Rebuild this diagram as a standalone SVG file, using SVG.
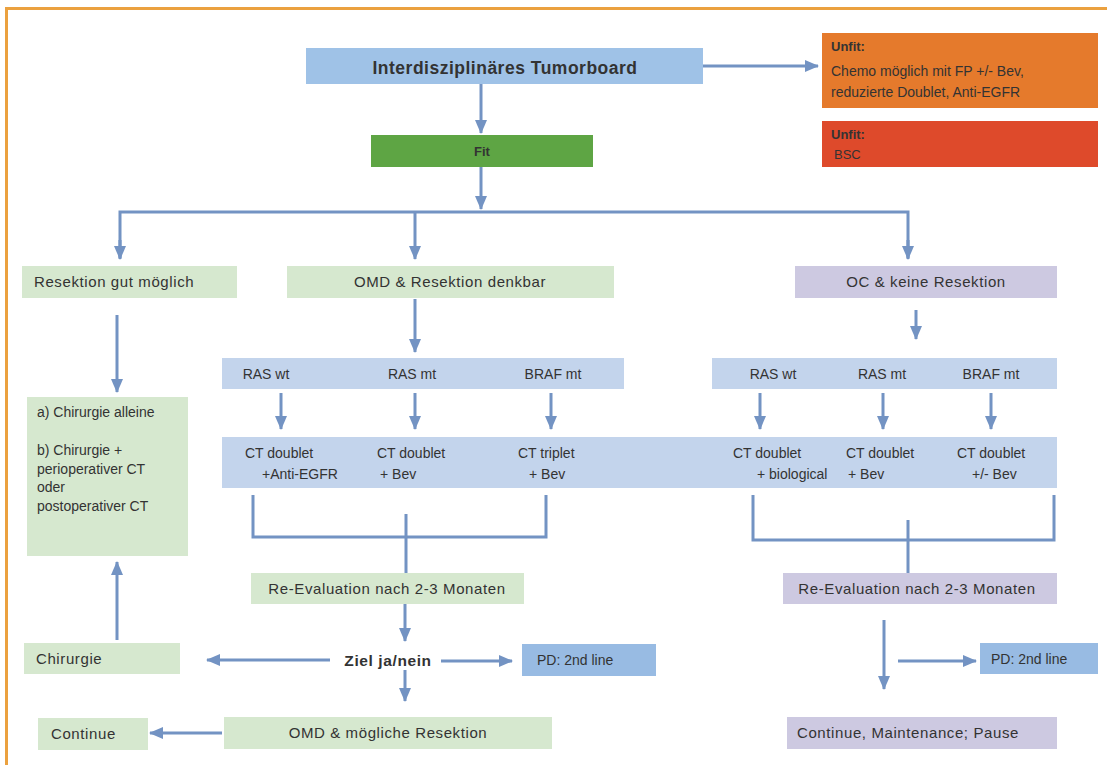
<svg xmlns="http://www.w3.org/2000/svg" width="1107" height="765" viewBox="0 0 1107 765">
<style>
text{font-family:"Liberation Sans",Arial,sans-serif;font-size:14px;fill:#333}
.b{font-weight:bold}
.c{text-anchor:middle}
.L{font-size:15px;letter-spacing:0.6px}
.ln{fill:none;stroke:#7393c3;stroke-width:3}
.g{fill:#d6e8cf}
.p{fill:#cdc9e1}
.lb{fill:#c3d4ec}
.db{fill:#98bbe3}
</style>
<defs>
<marker id="ah" markerUnits="userSpaceOnUse" markerWidth="14" markerHeight="14" viewBox="0 0 14 14" refX="13" refY="7" orient="auto">
<path d="M0,1 L14,7 L0,13 Z" fill="#7393c3"/>
</marker>
</defs>
<rect width="1107" height="765" fill="#fff"/>
<path d="M6.5,765 V8.5 H1107" fill="none" stroke="#eba13f" stroke-width="3"/>

<g id="connectors">
<path class="ln" d="M703,66 H818" marker-end="url(#ah)"/>
<path class="ln" d="M481,84 V133" marker-end="url(#ah)"/>
<path class="ln" d="M481,167 V209" marker-end="url(#ah)"/>
<path class="ln" d="M120,258 V212 H908 V258" />
<path class="ln" d="M120,240 V259" marker-end="url(#ah)"/>
<path class="ln" d="M415,212 V259" marker-end="url(#ah)"/>
<path class="ln" d="M908,240 V259" marker-end="url(#ah)"/>
<path class="ln" d="M415,299 V352" marker-end="url(#ah)"/>
<path class="ln" d="M916,310 V339" marker-end="url(#ah)"/>
<path class="ln" d="M117,315 V392" marker-end="url(#ah)"/>
<path class="ln" d="M281,393 V429" marker-end="url(#ah)"/>
<path class="ln" d="M415,393 V429" marker-end="url(#ah)"/>
<path class="ln" d="M551,393 V429" marker-end="url(#ah)"/>
<path class="ln" d="M760,393 V429" marker-end="url(#ah)"/>
<path class="ln" d="M883,393 V429" marker-end="url(#ah)"/>
<path class="ln" d="M991,393 V429" marker-end="url(#ah)"/>
<path class="ln" d="M253,495 V537 H546 V495"/>
<path class="ln" d="M406,514 V573"/>
<path class="ln" d="M753,495 V540 H1054 V495"/>
<path class="ln" d="M908,520 V573"/>
<path class="ln" d="M405,604 V641" marker-end="url(#ah)"/>
<path class="ln" d="M330,660 H207" marker-end="url(#ah)"/>
<path class="ln" d="M441,661 H512" marker-end="url(#ah)"/>
<path class="ln" d="M117,640 V562" marker-end="url(#ah)"/>
<path class="ln" d="M405,670 V701" marker-end="url(#ah)"/>
<path class="ln" d="M222,733 H150" marker-end="url(#ah)"/>
<path class="ln" d="M884,620 V689" marker-end="url(#ah)"/>
<path class="ln" d="M898,661 H976" marker-end="url(#ah)"/>
</g>

<g id="tumorboard"><rect x="306" y="48" width="397" height="36" fill="#9fc2e7"/><text class="b c" x="505" y="74" style="font-size:17.5px;letter-spacing:0.5px">Interdisziplinäres Tumorboard</text></g>
<g id="unfit1"><rect x="822" y="33" width="276" height="75" fill="#e57a2c"/><text class="b" x="831" y="51" style="font-size:13px">Unfit:</text><text x="831" y="76">Chemo möglich mit FP +/- Bev,</text><text x="831" y="97">reduzierte Doublet, Anti-EGFR</text></g>
<g id="unfit2"><rect x="822" y="121" width="276" height="46" fill="#de4a2b"/><text class="b" x="831" y="139" style="font-size:13px">Unfit:</text><text x="834" y="159" style="font-size:13px">BSC</text></g>
<g id="fit"><rect x="371" y="135" width="222" height="32" fill="#5ea544"/><text class="b c" x="482" y="156" style="font-size:13px">Fit</text></g>

<g id="resektion-gut"><rect class="g" x="22" y="266" width="215" height="32"/><text class="L" x="34" y="287">Resektion gut möglich</text></g>
<g id="omd-denkbar"><rect class="g" x="287" y="266" width="327" height="32"/><text class="c L" x="450" y="287">OMD &amp; Resektion denkbar</text></g>
<g id="oc-keine"><rect class="p" x="795" y="266" width="262" height="32"/><text class="c L" x="926" y="287">OC &amp; keine Resektion</text></g>

<g id="chirurgie-optionen"><rect class="g" x="27" y="397" width="161" height="159"/>
<text x="37" y="417">a) Chirurgie alleine</text>
<text x="37" y="455">b) Chirurgie +</text>
<text x="37" y="474">perioperativer CT</text>
<text x="37" y="492">oder</text>
<text x="37" y="511">postoperativer CT</text></g>

<g id="ras-links"><rect class="lb" x="222" y="358" width="402" height="31"/><text class="c" x="266" y="379">RAS wt</text><text class="c" x="412" y="379">RAS mt</text><text class="c" x="553" y="379">BRAF mt</text></g>
<g id="ras-rechts"><rect class="lb" x="712" y="358" width="345" height="31"/><text class="c" x="773" y="379">RAS wt</text><text class="c" x="882" y="379">RAS mt</text><text class="c" x="991" y="379">BRAF mt</text></g>

<g id="ct-therapien"><rect class="lb" x="222" y="437" width="835" height="51"/>
<text x="245" y="458">CT doublet</text><text x="262" y="479">+Anti-EGFR</text>
<text x="377" y="458">CT doublet</text><text x="380" y="479">+ Bev</text>
<text x="518" y="458">CT triplet</text><text x="529" y="479">+ Bev</text>
<text x="733" y="458">CT doublet</text><text x="757" y="479">+ biological</text>
<text x="846" y="458">CT doublet</text><text x="848" y="479">+ Bev</text>
<text x="957" y="458">CT doublet</text><text x="972" y="479">+/- Bev</text></g>

<g id="reeval-links"><rect class="g" x="251" y="573" width="273" height="31"/><text class="c L" x="387" y="594">Re-Evaluation nach 2-3 Monaten</text></g>
<g id="reeval-rechts"><rect class="p" x="783" y="573" width="274" height="31"/><text class="c L" x="917" y="594">Re-Evaluation nach 2-3 Monaten</text></g>

<g id="ziel"><text class="b c" x="388" y="666" style="font-size:15.5px;letter-spacing:0.6px">Ziel ja/nein</text></g>
<g id="chirurgie"><rect class="g" x="24" y="643" width="156" height="31"/><text class="L" x="36" y="664">Chirurgie</text></g>
<g id="pd-links"><rect class="db" x="522" y="644" width="134" height="32"/><text x="537" y="665">PD: 2nd line</text></g>
<g id="pd-rechts"><rect class="db" x="980" y="643" width="118" height="31"/><text x="991" y="664">PD: 2nd line</text></g>
<g id="omd-moeglich"><rect class="g" x="224" y="717" width="328" height="32"/><text class="c L" x="388" y="738">OMD &amp; mögliche Resektion</text></g>
<g id="continue"><rect class="g" x="38" y="718" width="110" height="32"/><text class="L" x="51" y="739">Continue</text></g>
<g id="continue-maintenance"><rect class="p" x="787" y="717" width="270" height="32"/><text class="L" x="797" y="738">Continue, Maintenance; Pause</text></g>
</svg>
